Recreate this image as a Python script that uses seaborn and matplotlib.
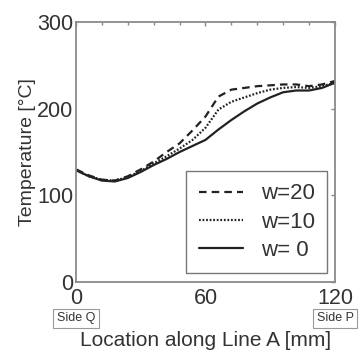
import numpy as np
import pandas as pd
import matplotlib
matplotlib.use("Agg")
import matplotlib.pyplot as plt
import seaborn as sns
from matplotlib.ticker import MultipleLocator

# ==========================================================
# DATA
# ==========================================================
location = [0, 6, 12, 18, 24, 30, 36, 42, 48, 54, 60, 66, 72, 78, 84, 90, 96, 102, 108, 114, 120]

temp_w20 = [130, 123, 118, 117, 122, 130, 139, 150, 160, 175, 191, 214, 222, 224, 226, 227, 228, 228, 226, 228, 232]
temp_w10 = [129, 122, 118, 117, 121, 128, 137, 145, 154, 164, 178, 199, 208, 213, 218, 222, 224, 225, 224, 226, 230]
temp_w0 = [129, 122, 117, 116, 120, 127, 135, 142, 150, 157, 164, 176, 187, 197, 206, 213, 219, 221, 221, 224, 230]

series_names = ["w=20", "w=10", "w= 0"]

df = pd.concat([
    pd.DataFrame({"x": location, "T": temp_w20, "case": "w=20"}),
    pd.DataFrame({"x": location, "T": temp_w10, "case": "w=10"}),
    pd.DataFrame({"x": location, "T": temp_w0, "case": "w= 0"}),
])

# ==========================================================
# STYLE
# ==========================================================
sns.set_theme(style="white")
plt.rcParams["font.family"] = ["Liberation Sans", "DejaVu Sans"]
text_col = "#333333"
spine_col = "#8a8a8a"

fig = plt.figure(figsize=(3.61, 3.56), dpi=100)
ax = fig.add_axes([0.2105, 0.208, 0.7175, 0.730])

sns.lineplot(
    data=df, x="x", y="T", style="case", style_order=series_names,
    dashes={"w=20": (3.4, 2.3), "w=10": (0.8, 0.8), "w= 0": ""},
    color="#222222", linewidth=1.6, ax=ax, legend=True
)

ax.set_xlim(0, 120)
ax.set_ylim(0, 300)
ax.xaxis.set_major_locator(MultipleLocator(60))
ax.xaxis.set_minor_locator(MultipleLocator(12))
ax.yaxis.set_major_locator(MultipleLocator(100))
ax.tick_params(axis="both", which="both", direction="in", top=True, right=True,
               color=spine_col, width=1.0)
ax.tick_params(axis="both", which="major", length=3, labelsize=15.5, labelcolor=text_col, pad=2)
ax.tick_params(axis="x", which="major", pad=4)
ax.tick_params(axis="x", which="minor", length=2)
for s in ax.spines.values():
    s.set_color(spine_col)
    s.set_linewidth(1.3)

ax.set_xlabel("Location along Line A [mm]", fontsize=15, color=text_col, labelpad=16.5)
ax.set_ylabel("Temperature [\u00b0C]", fontsize=14, color=text_col, labelpad=1)

leg = ax.legend(loc="lower right", bbox_to_anchor=(0.969, 0.035), fontsize=16,
                frameon=True, fancybox=False, handlelength=2.0, handletextpad=0.8,
                borderpad=0.55, labelspacing=0.32, borderaxespad=0)
leg.get_frame().set_edgecolor("#555555")
leg.get_frame().set_linewidth(1.0)
for t in leg.get_texts():
    t.set_color(text_col)

box = dict(boxstyle="square,pad=0.28", fc="white", ec="#999999", lw=0.8)
ax.text(0, -0.14, "Side Q", transform=ax.get_xaxis_transform(), ha="center", va="center",
        fontsize=9, color=text_col, bbox=box)
ax.text(120, -0.14, "Side P", transform=ax.get_xaxis_transform(), ha="center", va="center",
        fontsize=9, color=text_col, bbox=box)

fig.savefig("out.png", dpi=100)
